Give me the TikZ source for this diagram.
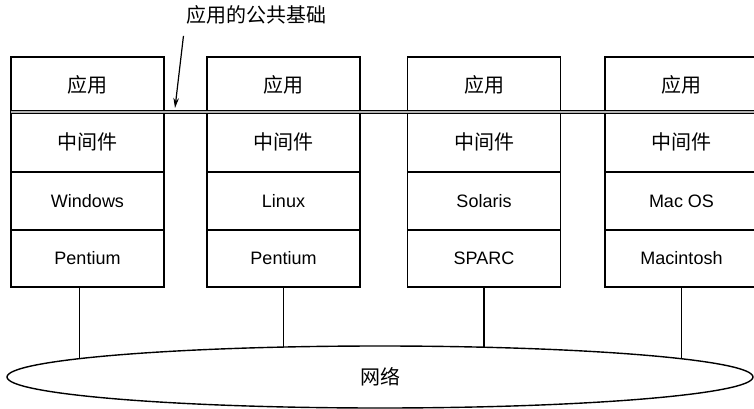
\documentclass[tikz,border=0pt]{standalone}
\usepackage{fontspec}
\setmainfont{Liberation Sans}
\newfontfamily\cjk{Noto Sans CJK SC}
\usepackage{tikz}
\usetikzlibrary{arrows.meta, positioning, shapes.geometric, backgrounds}

\tikzset{
  layer/.style={draw, line width=1.2pt, minimum width=153pt, inner sep=0pt, outer sep=0pt},
  cjktext/.style={font=\cjk\fontsize{20}{20}\selectfont},
  latintext/.style={font=\fontsize{18}{18}\selectfont},
}

\begin{document}
\begin{tikzpicture}[x=1pt, y=-1pt]
    \useasboundingbox (0,0) rectangle (754,409);

    % === Column 1: Windows / Pentium ===
    \node[layer, cjktext, minimum height=55pt] (app1) at (87.5,84.5) {应用};
    \node[layer, cjktext, minimum height=60pt, below=0pt of app1] (mid1) {中间件};
    \node[layer, latintext, minimum height=58pt, below=0pt of mid1] (os1) {Windows};
    \node[layer, latintext, minimum height=57pt, below=0pt of os1] (hw1) {Pentium};

    % === Column 2: Linux / Pentium ===
    \node[layer, cjktext, minimum height=55pt] (app2) at (283.5,84.5) {应用};
    \node[layer, cjktext, minimum height=60pt, below=0pt of app2] (mid2) {中间件};
    \node[layer, latintext, minimum height=58pt, below=0pt of mid2] (os2) {Linux};
    \node[layer, latintext, minimum height=57pt, below=0pt of os2] (hw2) {Pentium};

    % === Column 3: Solaris / SPARC ===
    \node[layer, cjktext, minimum height=55pt] (app3) at (484,84.5) {应用};
    \node[layer, cjktext, minimum height=60pt, below=0pt of app3] (mid3) {中间件};
    \node[layer, latintext, minimum height=58pt, below=0pt of mid3] (os3) {Solaris};
    \node[layer, latintext, minimum height=57pt, below=0pt of os3] (hw3) {SPARC};

    % === Column 4: Mac OS / Macintosh (cut by the right edge) ===
    \node[layer, cjktext, minimum height=55pt] (app4) at (681.5,84.5) {应用};
    \node[layer, cjktext, minimum height=60pt, below=0pt of app4] (mid4) {中间件};
    \node[layer, latintext, minimum height=58pt, below=0pt of mid4] (os4) {Mac OS};
    \node[layer, latintext, minimum height=57pt, below=0pt of os4] (hw4) {Macintosh};

    % Common base bar
    \coordinate (barend) at (760,112);
    \draw[line width=1.4pt, double=gray!60, double distance=2pt] (app1.south west) -- (app1.south west -| barend);

    % Label and arrow
    \node[cjktext] (base) at (256,15) {应用的公共基础};
    \coordinate (tip) at (175,108);
    \draw[line width=1.2pt, -{Stealth[length=10pt, width=5.5pt]}] ([xshift=1pt, yshift=-8pt]base.south west) -- (tip);

    % Network
    \node[draw, ellipse, line width=1.4pt, fill=white, minimum width=746pt, minimum height=62pt,
          inner sep=0pt, cjktext] (net) at (380,377) {网络};

    % Connectors (hidden behind the ellipse)
    \begin{scope}[on background layer]
      \draw[line width=1.2pt] ([xshift=-8pt]hw1.south) -- ([xshift=-8pt]hw1.south |- net.center);
      \draw[line width=1.2pt] (hw2.south) -- (hw2.south |- net.center);
      \draw[line width=1.2pt] (hw3.south) -- (hw3.south |- net.center);
      \draw[line width=1.2pt] (hw4.south) -- (hw4.south |- net.center);
    \end{scope}
\end{tikzpicture}
\end{document}
